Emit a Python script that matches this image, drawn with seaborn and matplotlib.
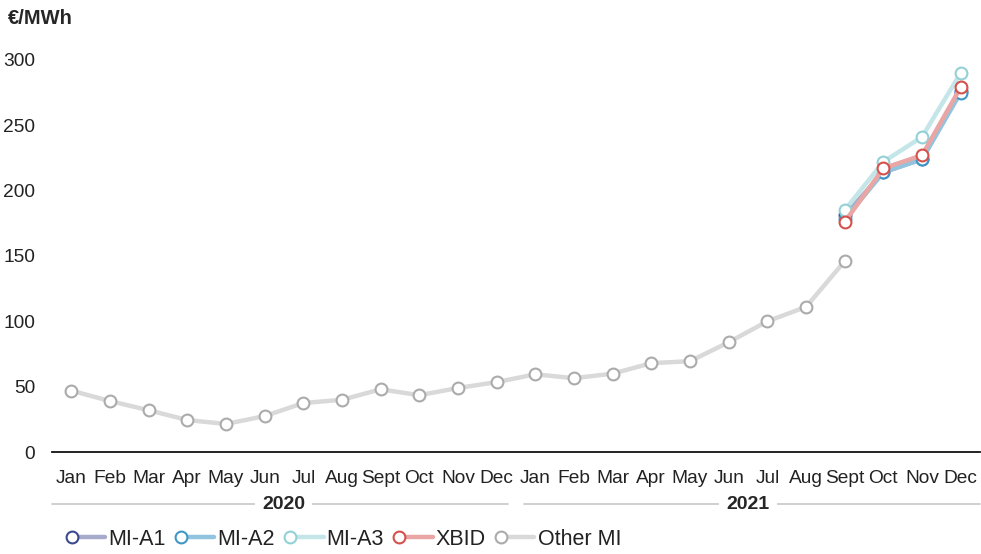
import numpy as np
import pandas as pd
import seaborn as sns
import matplotlib.pyplot as plt
from matplotlib.lines import Line2D
import matplotlib.transforms as mtransforms

sns.set_theme(style="white")
plt.rcParams['font.family'] = ['Liberation Sans', 'DejaVu Sans']

# data (EUR/MWh, monthly)
months = ["Jan", "Feb", "Mar", "Apr", "May", "Jun", "Jul", "Aug", "Sept", "Oct", "Nov", "Dec"]
years = ["2020", "2021"]
other_mi = [47, 39, 32, 24.5, 21.5, 27.5, 37.5, 40, 48, 43.5, 49, 53.5,
            59.5, 56.5, 60, 68, 69.5, 84, 100, 111, 146]
mi_a1 = [181, 214, 224, 276]
mi_a2 = [178, 214, 224, 275]
mi_a3 = [185, 222, 241, 290]
xbid = [176, 217, 227, 279]

series = {"Other MI": other_mi, "MI-A1": mi_a1, "MI-A2": mi_a2, "MI-A3": mi_a3, "XBID": xbid}
line_col = {"MI-A1": "#a6abcb", "MI-A2": "#91c4df", "MI-A3": "#c4e6e8", "XBID": "#e9a6a4", "Other MI": "#d9d9d9"}
mark_col = {"MI-A1": "#3d4a8c", "MI-A2": "#3f97c6", "MI-A3": "#93d1d6", "XBID": "#d6504c", "Other MI": "#ababab"}

n_months = len(months) * len(years)
rows = []
for name, vals in series.items():
    start = n_months - len(vals) if name != "Other MI" else 0
    for i, v in enumerate(vals):
        rows.append({"series": name, "x": start + i, "value": v})
df = pd.DataFrame(rows)

fig = plt.figure(figsize=(9.81, 5.54), dpi=100)
ax = fig.add_axes([0.053, 0.184, 0.946, 0.708])

for name in series:
    d = df[df["series"] == name]
    sns.lineplot(data=d, x="x", y="value", ax=ax, color=line_col[name], linewidth=3.2,
                 marker="o", markersize=8.5, markerfacecolor="white",
                 markeredgecolor=mark_col[name], markeredgewidth=1.5, clip_on=False)

ax.set_xlim(-0.5, n_months - 0.5)
ax.set_ylim(0, 300)
ax.set_yticks(range(0, 301, 50))
ax.set_xticks(range(n_months))
ax.set_xticklabels(months * len(years))
ax.tick_params(axis="both", labelsize=13.8, length=0, colors="#222222")
ax.tick_params(axis="x", pad=13)
ax.tick_params(axis="y", pad=12)
ax.set_xlabel("")
ax.set_ylabel("")
for s in ["top", "right", "left"]:
    ax.spines[s].set_visible(False)
ax.spines["bottom"].set_color("#111111")
ax.spines["bottom"].set_linewidth(1.3)

fig.text(0.008, 0.967, "€/MWh", fontsize=14.5, fontweight="bold", ha="left", va="center")

# year group labels
trans = mtransforms.blended_transform_factory(ax.transData, fig.transFigure)
for k, yr in enumerate(years):
    x0 = k * 12 - 0.5 + (0.0 if k == 0 else 0.2)
    x1 = k * 12 + 11.5 - (0.2 if k == 0 else 0.0)
    ax.add_line(Line2D([x0, x1], [0.09, 0.09], transform=trans, color="#c8c8c8",
                       linewidth=1.2, clip_on=False))
    ax.text(k * 12 + 5.5, 0.09, yr, transform=trans, ha="center", va="center",
            fontsize=14, fontweight="bold",
            bbox=dict(facecolor="white", edgecolor="none", pad=5))


# legend: marker to the left of line
class MarkerLineHandler:
    def __init__(self, lc, mc):
        self.lc, self.mc = lc, mc

    def legend_artist(self, legend, orig_handle, fontsize, handlebox):
        x0, y0 = handlebox.xdescent, handlebox.ydescent
        w, h = handlebox.width, handlebox.height
        ym = y0 + h / 2
        r = 4.5
        ln = Line2D([x0 + 2 * r, x0 + w], [ym, ym], color=self.lc, linewidth=3.2)
        mk = Line2D([x0 + r], [ym], marker="o", markersize=8.5, markerfacecolor="white",
                    markeredgecolor=self.mc, markeredgewidth=1.5, linestyle="none")
        handlebox.add_artist(ln)
        handlebox.add_artist(mk)
        return mk


order = ["MI-A1", "MI-A2", "MI-A3", "XBID", "Other MI"]
handles = [Line2D([], [], label=n) for n in order]
hmap = {h: MarkerLineHandler(line_col[n], mark_col[n]) for h, n in zip(handles, order)}
fig.legend(handles=handles, labels=order, handler_map=hmap, loc="center left",
           bbox_to_anchor=(0.047, 0.027), ncol=5, frameon=False, fontsize=15.5,
           handlelength=1.85, handletextpad=0.15, columnspacing=0.4, labelcolor="#222222")

fig.savefig("out.png", dpi=100)
